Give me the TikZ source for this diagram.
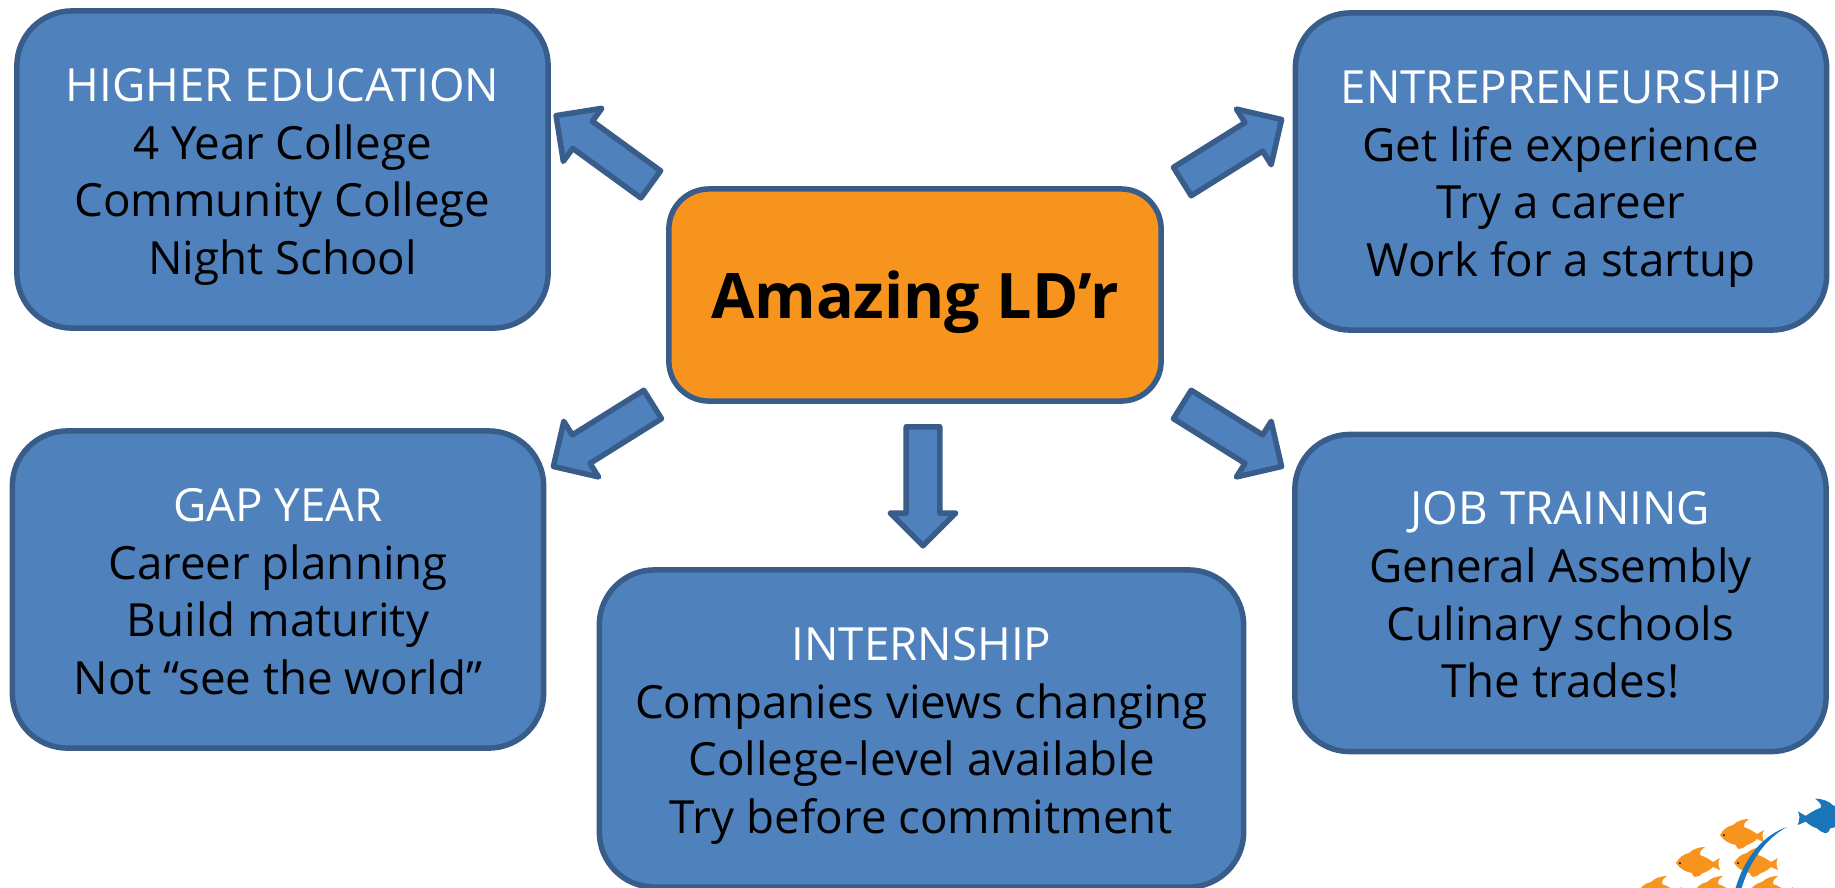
\documentclass[tikz,border=0pt]{standalone}
\usepackage{fontspec}
\setmainfont{Open Sans}
\usetikzlibrary{shapes}
\usetikzlibrary{shapes.arrows}
\usetikzlibrary{positioning}
\definecolor{boxblue}{HTML}{4F81BD}
\definecolor{boxline}{HTML}{385D8A}
\definecolor{fishorange}{HTML}{F7941E}
\definecolor{fishblue}{HTML}{1B75BB}
\newcommand{\boxhead}[1]{\rule{0pt}{14.5pt}\textcolor{white}{#1}}
\tikzset{
    mybox/.style = {rectangle, rounded corners=0.55cm, line width=0.055cm, draw=boxline, fill=boxblue, align=center,
        minimum width=5.31cm, minimum height=3.17cm, inner sep=0pt, font=\fontsize{13}{16.4}\selectfont,
        execute at begin node={\rule[-4pt]{0pt}{0pt}}},
    myboxo/.style = {rectangle, rounded corners=0.40cm, line width=0.055cm, draw=boxline, fill=fishorange, align=center,
        minimum width=4.92cm, minimum height=2.12cm, inner sep=0pt, font=\fontsize{17.85}{21}\selectfont\bfseries,
        execute at begin node={\rule{0pt}{17.7pt}}},
    arrown/.style = {single arrow, anchor=tail, line width=0.055cm, line join=round, draw=boxline, fill=boxblue,
        inner xsep=0pt, inner ysep=0.14cm, minimum width=0.60cm, minimum height=1.17cm, single arrow head extend=0.16cm},
    fish/.pic = {
        \fill (-22,0) .. controls (-19,-5) and (-15,-9) .. (-9,-10) .. controls (-5,-14) and (1,-16) .. (7,-16)
            .. controls (3,-13) and (1,-11) .. (2,-8) .. controls (8,-6) and (12,-3) .. (15,-1)
            -- (22,-5) .. controls (20,-2) and (20,2) .. (22,7) -- (15,4)
            .. controls (12,7) and (8,9) .. (5,10) .. controls (3,12) and (0,14) .. (-3,14)
            .. controls (-5,13) and (-6,12) .. (-6,10) .. controls (-12,9) and (-18,6) .. (-22,0) -- cycle;
    },
}

\begin{document}
\begin{tikzpicture}[x=0.01cm,y=-0.01cm]
  \useasboundingbox (0,0) rectangle (1835,887);
  \clip (0,0) rectangle (1835,887);

  \node[mybox] at (282.5,169.5) (higher) {\boxhead{HIGHER EDUCATION}\\4 Year College\\Community College\\Night School};
  \node[mybox] at (1561,171.5) (entre) {\boxhead{ENTREPRENEURSHIP}\\Get life experience\\Try a career\\Work for a startup};
  \node[mybox] at (278,589.5) (gap) {\boxhead{GAP YEAR}\\Career planning\\Build maturity\\Not “see the world”};
  \node[mybox] at (1560.5,593) (job) {\boxhead{JOB TRAINING}\\General Assembly\\Culinary schools\\The trades!};
  \node[mybox,minimum width=6.44cm] at (921.5,728.5) (intern) {\boxhead{INTERNSHIP}\\Companies views changing\\College-level available\\Try before commitment};
  \node[myboxo] at (915,295) (amazing) {Amazing LD’r};

  \node[arrown,rotate=144] at (653,186) (ahigher) {};
  \node[arrown,rotate=32] at (1180,183) (aentre) {};
  \node[arrown,rotate=212] at (655,403) (agap) {};
  \node[arrown,rotate=-32] at (1180,403) (ajob) {};
  \node[arrown,rotate=-90,minimum height=1.19cm] at (923,424) (aintern) {};

  % fish school
  \pic[fishorange] at (1742,835) {fish};
  \pic[fishorange] at (1698,863) {fish};
  \pic[fishorange] at (1756,863) {fish};
  \pic[fishorange] at (1660,892) {fish};
  \pic[fishorange] at (1716,892) {fish};
  \pic[fishorange] at (1771,892) {fish};
  \fill[black] (1724,835) circle (1);
  \fill[black] (1680,863) circle (1);
  \fill[black] (1738,863) circle (1);
  \pic[fishblue,xscale=-1.15,yscale=1.15] at (1823,817) {fish};
  \fill[fishblue] (1787,827) .. controls (1763,835) and (1744,858) .. (1735,890)
      -- (1741,890) .. controls (1749,862) and (1766,838) .. (1787,827) -- cycle;
\end{tikzpicture}
\end{document}
